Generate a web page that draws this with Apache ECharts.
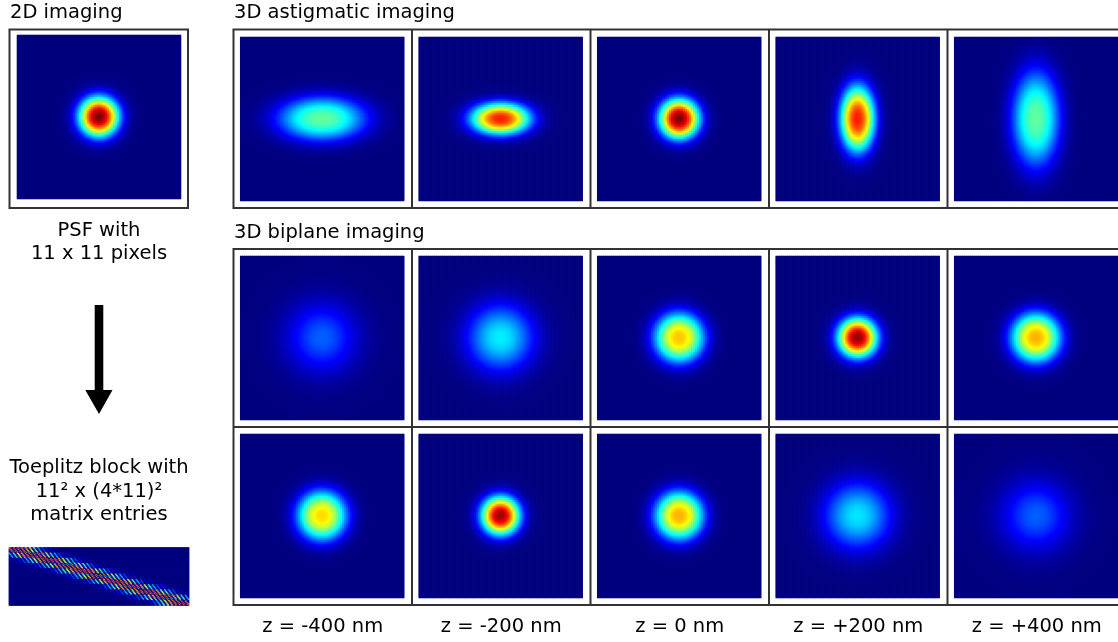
<!DOCTYPE html>
<html>
<head>
<meta charset="utf-8">
<script src="https://cdn.jsdelivr.net/npm/echarts@6/dist/echarts.min.js"></script>
<style>
  html, body { margin: 0; padding: 0; background: #fff; }
  #chart { width: 1118px; height: 642px; }
</style>
</head>
<body>
<div id="chart"></div>
<script>
// ---- PSF model parameters (one entry per axial position) ----
// peak: intensity relative to the in-focus 2D PSF peak
// width: PSF width in camera pixels; shape: edge sharpness exponent
const zLabels = ['z = -400 nm', 'z = -200 nm', 'z = 0 nm', 'z = +200 nm', 'z = +400 nm'];

const psf2dPeak = 1.0;
const psf2dWidth = 0.96;
const psf2dShape = 2.3;

const astigPeak   = [0.47, 0.85, 1.00, 0.85, 0.47];
const astigWidthX = [2.20, 1.45, 0.96, 0.85, 1.20];
const astigWidthY = [1.10, 0.78, 0.96, 1.60, 2.40];
const astigShape  = [2.5, 2.4, 2.3, 2.4, 2.5];

const planeAPeak  = [0.22, 0.36, 0.68, 0.98, 0.70];
const planeAWidth = [1.61, 1.61, 1.25, 0.95, 1.25];
const planeAShape = [2.0, 2.2, 2.5, 2.3, 2.5];

const planeBPeak  = [0.66, 0.97, 0.70, 0.35, 0.22];
const planeBWidth = [1.25, 0.93, 1.22, 1.61, 1.61];
const planeBShape = [2.5, 2.3, 2.5, 2.2, 2.0];

const psfPixels = 11;   // PSF support in camera pixels
const upsampling = 4;   // object-grid oversampling of the Toeplitz block

// jet colour map
const jet = ['#00007f', '#0000ff', '#007fff', '#00ffff', '#7fff7f',
             '#ffff00', '#ff7f00', '#ff0000', '#7f0000'];

// ---- helpers ----
function psfValue(u, v, peak, wx, wy, shape) {
  const q = (u * u) / (wx * wx) + (v * v) / (wy * wy);
  return peak * Math.exp(-0.5 * Math.pow(q, shape / 2));
}

// PSF averaged over one camera pixel (4 x 4 sub-samples)
const subOffsets = [-0.375, -0.125, 0.125, 0.375];
function pixelPsf(u, v) {
  let s = 0;
  for (const du of subOffsets) {
    for (const dv of subOffsets) {
      s += psfValue(u + du, v + dv, psf2dPeak, psf2dWidth, psf2dWidth, psf2dShape);
    }
  }
  return s / (subOffsets.length * subOffsets.length);
}

const samples = 82; // display samples per panel side
function psfImage(peak, wx, wy, shape) {
  const out = [];
  for (let iy = 0; iy < samples; iy++) {
    const v = ((iy + 0.5) / samples) * psfPixels - psfPixels / 2;
    for (let ix = 0; ix < samples; ix++) {
      const u = ((ix + 0.5) / samples) * psfPixels - psfPixels / 2;
      out.push([ix, iy, psfValue(u, v, peak, wx, wy, shape)]);
    }
  }
  return out;
}

// block Toeplitz matrix: rows = camera pixels (11^2), cols = object pixels ((4*11)^2);
// columns are reduced to one display column per bin (largest entry in the bin)
const objSide = upsampling * psfPixels;
const nRows = psfPixels * psfPixels;
const nCols = objSide * objSide;
const colBins = 180;
function toeplitzImage() {
  const out = [];
  for (let i = 0; i < psfPixels; i++) {
    for (let j = 0; j < psfPixels; j++) {
      const r = i * psfPixels + j;
      for (let b = 0; b < colBins; b++) {
        const c0 = Math.floor(b * nCols / colBins);
        const c1 = Math.floor((b + 1) * nCols / colBins);
        let m = 0;
        for (let c = c0; c < c1; c++) {
          const k = Math.floor(c / objSide), l = c % objSide;
          const v = (k - upsampling * i - (upsampling - 1) / 2) / upsampling;
          const u = (l - upsampling * j - (upsampling - 1) / 2) / upsampling;
          if (Math.abs(u) > 4 || Math.abs(v) > 4) continue;
          m = Math.max(m, pixelPsf(u, v));
        }
        out.push([b, r, m]);
      }
    }
  }
  return out;
}

function range(n) { return Array.from({ length: n }, (_, i) => i); }

// ---- layout ----
const grids = [], xAxes = [], yAxes = [], series = [];
function addPanel(left, top, w, h, nx, ny, data) {
  const g = grids.length;
  grids.push({ left, top, width: w, height: h });
  xAxes.push({ type: 'category', gridIndex: g, show: false, data: range(nx) });
  yAxes.push({ type: 'category', gridIndex: g, show: false, inverse: true, data: range(ny) });
  series.push({
    type: 'heatmap', xAxisIndex: g, yAxisIndex: g, data,
    progressive: 0, silent: true, animation: false,
    emphasis: { disabled: true }, itemStyle: { borderWidth: 0 }
  });
}

const img = 164;
const cellW = 178.5;
const colLeft = 233.5;
const insetX = 6.7;

// 2D imaging
addPanel(17, 35, img, img, samples, samples,
  psfImage(psf2dPeak, psf2dWidth, psf2dWidth, psf2dShape));

// 3D astigmatic imaging
for (let n = 0; n < 5; n++) {
  addPanel(colLeft + n * cellW + insetX, 37, img, img, samples, samples,
    psfImage(astigPeak[n], astigWidthX[n], astigWidthY[n], astigShape[n]));
}
// 3D biplane imaging, two planes
for (let n = 0; n < 5; n++) {
  addPanel(colLeft + n * cellW + insetX, 256, img, img, samples, samples,
    psfImage(planeAPeak[n], planeAWidth[n], planeAWidth[n], planeAShape[n]));
  addPanel(colLeft + n * cellW + insetX, 434, img, img, samples, samples,
    psfImage(planeBPeak[n], planeBWidth[n], planeBWidth[n], planeBShape[n]));
}
// Toeplitz block
addPanel(9, 547.5, 180, 58, colBins, nRows, toeplitzImage());

// ---- frames, arrow, labels ----
const frameStyle = { fill: 'none', stroke: '#333333', lineWidth: 2 };
const graphics = [];
graphics.push({ type: 'rect', shape: { x: 9.5, y: 29.5, width: 178.5, height: 178.5 }, style: frameStyle, z: 100 });
graphics.push({ type: 'rect', shape: { x: colLeft, y: 29.5, width: cellW * 5, height: 178.5 }, style: frameStyle, z: 100 });
graphics.push({ type: 'rect', shape: { x: colLeft, y: 249, width: cellW * 5, height: 356 }, style: frameStyle, z: 100 });
graphics.push({ type: 'line', shape: { x1: colLeft, y1: 427, x2: colLeft + cellW * 5, y2: 427 }, style: frameStyle, z: 100 });
for (let n = 1; n < 5; n++) {
  const x = colLeft + n * cellW;
  graphics.push({ type: 'line', shape: { x1: x, y1: 29.5, x2: x, y2: 208 }, style: frameStyle, z: 100 });
  graphics.push({ type: 'line', shape: { x1: x, y1: 249, x2: x, y2: 605 }, style: frameStyle, z: 100 });
}
// arrow
graphics.push({ type: 'rect', shape: { x: 94.7, y: 305, width: 8.6, height: 86 }, style: { fill: '#000' }, z: 100 });
graphics.push({ type: 'polygon', shape: { points: [[85.3, 390], [112.5, 390], [99, 414]] }, style: { fill: '#000' }, z: 100 });

const font = '19.5px "DejaVu Sans", Verdana, sans-serif';
function label(text, x, baseline, align) {
  graphics.push({
    type: 'text', x, y: baseline - 6.8, z: 100,
    style: {
      text, font, fill: '#000',
      align, textAlign: align, verticalAlign: 'middle', textVerticalAlign: 'middle'
    }
  });
}
label('2D imaging', 10, 20, 'left');
label('3D astigmatic imaging', 234, 20, 'left');
label('3D biplane imaging', 234, 239.5, 'left');
label('PSF with', 99, 237.3, 'center');
label('11 x 11 pixels', 99, 261, 'center');
label('Toeplitz block with', 99, 475, 'center');
label('11\u00b2 x (4*11)\u00b2', 99, 499, 'center');
label('matrix entries', 99, 521.5, 'center');
for (let n = 0; n < 5; n++) {
  label(zLabels[n], colLeft + (n + 0.5) * cellW, 634, 'center');
}

const chart = echarts.init(document.getElementById('chart'), null, { renderer: 'canvas' });
chart.setOption({
  animation: false,
  backgroundColor: '#ffffff',
  grid: grids,
  xAxis: xAxes,
  yAxis: yAxes,
  visualMap: {
    type: 'continuous', show: false, min: 0, max: 1, dimension: 2,
    seriesIndex: range(series.length),
    inRange: { color: jet }
  },
  series,
  graphic: { elements: graphics }
});
</script>
</body>
</html>
